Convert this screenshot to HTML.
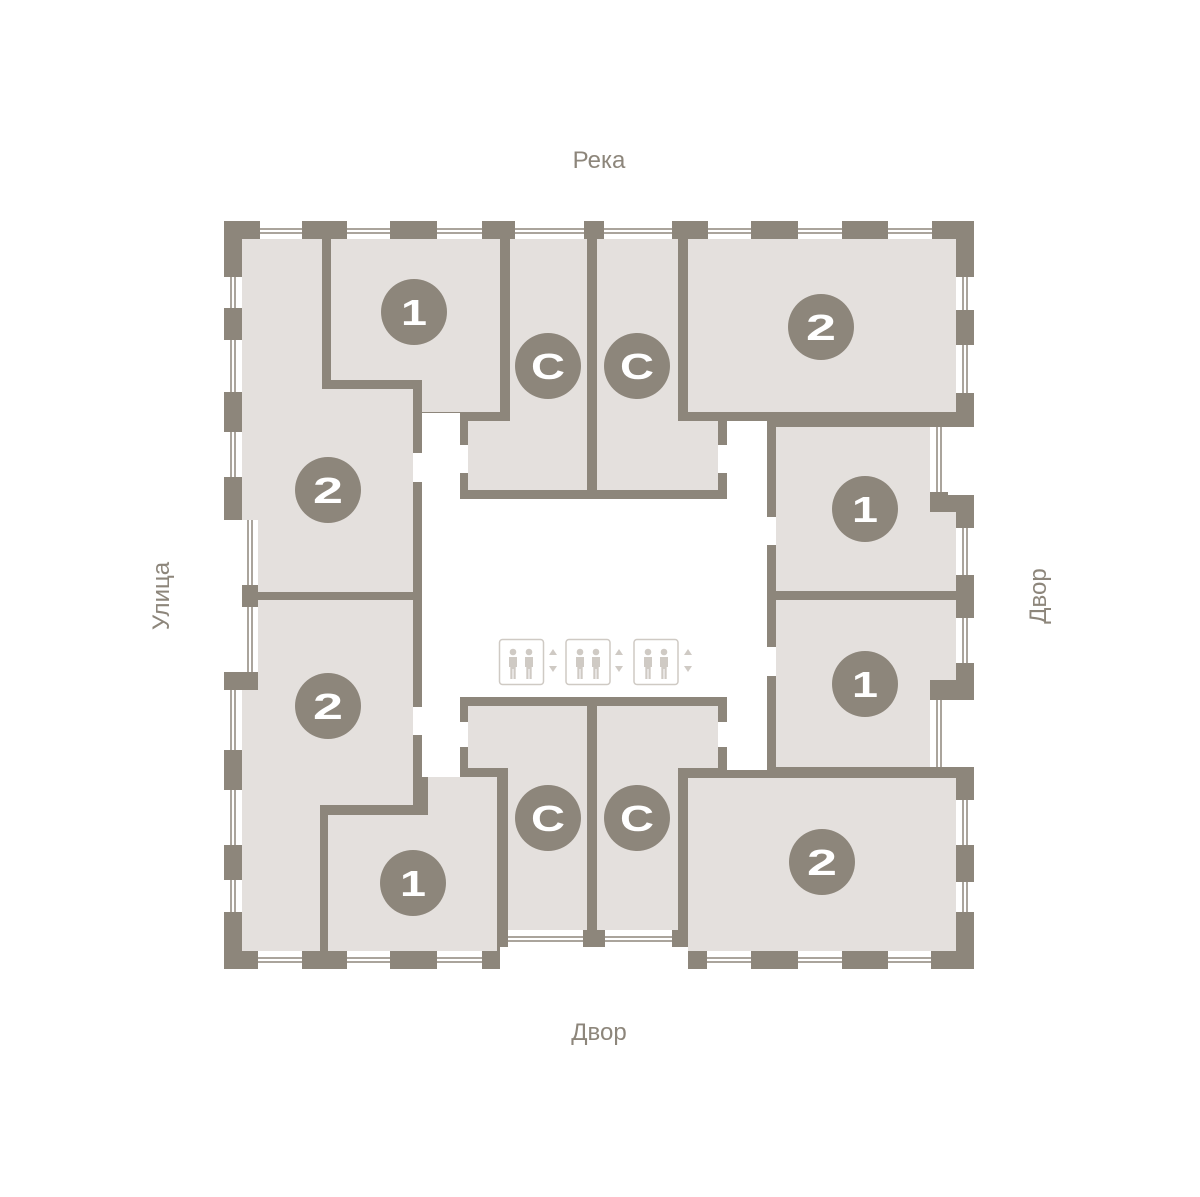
<!DOCTYPE html>
<html><head><meta charset="utf-8"><style>
html,body{margin:0;padding:0;background:#fff;}
svg{display:block;}
text{font-family:"Liberation Sans",sans-serif;}
</style></head><body>
<svg width="1200" height="1197" viewBox="0 0 1200 1197" xmlns="http://www.w3.org/2000/svg">
<defs>
<g id="man"><circle cx="0" cy="-12" r="3.3"/><path d="M-4,-7 h8 v10 h-1.3 v12 h-2.2 v-10 h-1 v10 h-2.2 v-12 h-1.3z"/></g>
</defs>
<path fill="#8d867b" d="M224,221 H974 V427 H948 V495 H974 V700 H948 V767 H974 V969 H688 V947 H500 V969 H224 V672 H242 V520 H224 Z"/>
<g fill="#fff">
<rect x="260" y="221" width="42" height="18"/><rect x="347" y="221" width="43" height="18"/><rect x="437" y="221" width="45" height="18"/><rect x="515" y="221" width="69" height="18"/><rect x="604" y="221" width="68" height="18"/><rect x="708" y="221" width="43" height="18"/><rect x="798" y="221" width="44" height="18"/><rect x="888" y="221" width="44" height="18"/>
<rect x="258" y="951" width="44" height="18"/><rect x="347" y="951" width="43" height="18"/><rect x="437" y="951" width="45" height="18"/><rect x="707" y="951" width="44" height="18"/><rect x="798" y="951" width="44" height="18"/><rect x="888" y="951" width="43" height="18"/>
<rect x="508" y="930" width="75" height="17"/><rect x="605" y="930" width="67" height="17"/>
<rect x="224" y="277" width="18" height="31"/><rect x="224" y="340" width="18" height="52"/><rect x="224" y="432" width="18" height="45"/>
<rect x="224" y="690" width="18" height="60"/><rect x="224" y="790" width="18" height="55"/><rect x="224" y="880" width="18" height="32"/>
<rect x="242" y="520" width="16" height="65"/><rect x="242" y="607" width="16" height="65"/>
<rect x="956" y="277" width="18" height="33"/><rect x="956" y="345" width="18" height="48"/>
<rect x="930" y="427" width="18" height="65"/><rect x="930" y="700" width="18" height="67"/>
<rect x="956" y="528" width="18" height="47"/><rect x="956" y="618" width="18" height="45"/>
<rect x="956" y="800" width="18" height="45"/><rect x="956" y="882" width="18" height="30"/>
</g>
<g stroke="#8d867b" stroke-width="1.5" fill="none">
<path d="M260,229H302M260,233H302M347,229H390M347,233H390M437,229H482M437,233H482M515,229H584M515,233H584M604,229H672M604,233H672M708,229H751M708,233H751M798,229H842M798,233H842M888,229H932M888,233H932"/>
<path d="M258,958H302M258,962H302M347,958H390M347,962H390M437,958H482M437,962H482M707,958H751M707,962H751M798,958H842M798,962H842M888,958H931M888,962H931"/>
<path d="M508,937H583M508,941H583M605,937H672M605,941H672"/>
<path d="M231,277V308M235,277V308M231,340V392M235,340V392M231,432V477M235,432V477M231,690V750M235,690V750M231,790V845M235,790V845M231,880V912M235,880V912"/>
<path d="M248,520V585M252,520V585M248,607V672M252,607V672"/>
<path d="M963,277V310M967,277V310M963,345V393M967,345V393M937,427V492M941,427V492M937,700V767M941,700V767M963,528V575M967,528V575M963,618V663M967,618V663M963,800V845M967,800V845M963,882V912M967,882V912"/>
</g>
<g fill="#e4e0dd">
<path d="M242,239H322V389H413V592H258V520H242Z"/>
<path d="M331,239H500V412H422V380H331Z"/>
<path d="M510,239H587V490H468V421H510Z"/>
<path d="M597,239H678V421H718V490H597Z"/>
<path d="M688,239H956V412H688Z"/>
<path d="M776,427H930V512H956V591H776Z"/>
<path d="M776,600H956V680H930V767H776Z"/>
<path d="M688,778H956V951H688Z"/>
<path d="M468,706H587V930H508V768H468Z"/>
<path d="M597,706H718V768H678V930H597Z"/>
<path d="M428,777H497V951H328V815H428Z"/>
<path d="M258,600H413V805H320V951H242V690H258Z"/>
</g>
<g fill="#fff">
<rect x="422" y="413" width="38" height="364"/>
<rect x="727" y="421" width="40" height="349"/>
<rect x="422" y="499" width="345" height="198"/>
<rect x="413" y="453" width="9" height="29"/><rect x="413" y="707" width="9" height="28"/>
<rect x="767" y="517" width="9" height="28"/><rect x="767" y="647" width="9" height="29"/>
<rect x="460" y="445" width="8" height="28"/><rect x="718" y="445" width="9" height="28"/>
<rect x="460" y="722" width="8" height="25"/><rect x="718" y="722" width="9" height="25"/>
</g>
<g fill="#8d867b">
<circle cx="414" cy="312" r="33"/><circle cx="548" cy="366" r="33"/><circle cx="637" cy="366" r="33"/><circle cx="821" cy="327" r="33"/>
<circle cx="328" cy="490" r="33"/><circle cx="865" cy="509" r="33"/><circle cx="865" cy="684" r="33"/><circle cx="328" cy="706" r="33"/>
<circle cx="548" cy="818" r="33"/><circle cx="637" cy="818" r="33"/><circle cx="822" cy="862" r="33"/><circle cx="413" cy="883" r="33"/>
</g>
<g fill="#fff" font-size="36" font-weight="bold" text-anchor="middle">
<text x="414" y="325" textLength="26" lengthAdjust="spacingAndGlyphs">1</text>
<text x="548" y="379" textLength="34" lengthAdjust="spacingAndGlyphs">C</text>
<text x="637" y="379" textLength="34" lengthAdjust="spacingAndGlyphs">C</text>
<text x="821" y="340" textLength="30" lengthAdjust="spacingAndGlyphs">2</text>
<text x="328" y="503" textLength="30" lengthAdjust="spacingAndGlyphs">2</text>
<text x="865" y="522" textLength="26" lengthAdjust="spacingAndGlyphs">1</text>
<text x="865" y="697" textLength="26" lengthAdjust="spacingAndGlyphs">1</text>
<text x="328" y="719" textLength="30" lengthAdjust="spacingAndGlyphs">2</text>
<text x="548" y="831" textLength="34" lengthAdjust="spacingAndGlyphs">C</text>
<text x="637" y="831" textLength="34" lengthAdjust="spacingAndGlyphs">C</text>
<text x="822" y="875" textLength="30" lengthAdjust="spacingAndGlyphs">2</text>
<text x="413" y="896" textLength="26" lengthAdjust="spacingAndGlyphs">1</text>
</g>
<g fill="none" stroke="#cfcac4" stroke-width="1.5">
<rect x="499.5" y="639.5" width="44" height="45" rx="3"/>
<rect x="566" y="639.5" width="44" height="45" rx="3"/>
<rect x="634" y="639.5" width="44" height="45" rx="3"/>
</g>
<g fill="#cfcac4">
<use href="#man" x="513" y="664"/><use href="#man" x="529" y="664"/>
<use href="#man" x="580" y="664"/><use href="#man" x="596" y="664"/>
<use href="#man" x="648" y="664"/><use href="#man" x="664" y="664"/>
<path d="M549,655l4,-6l4,6zM549,666l4,6l4,-6z"/>
<path d="M615,655l4,-6l4,6zM615,666l4,6l4,-6z"/>
<path d="M684,655l4,-6l4,6zM684,666l4,6l4,-6z"/>
</g>
<g fill="#8d867b" font-size="24" text-anchor="middle">
<text x="599" y="168">Река</text>
<text x="599" y="1040">Двор</text>
<text transform="translate(169,596) rotate(-90)">Улица</text>
<text transform="translate(1046,596) rotate(-90)">Двор</text>
</g>
</svg>
</body></html>
